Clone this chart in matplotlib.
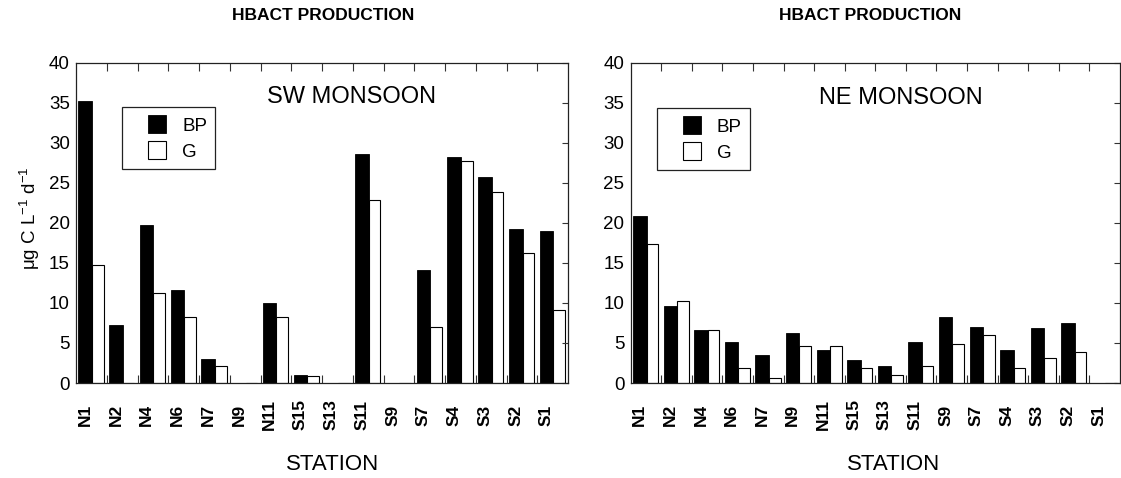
from __future__ import annotations

import matplotlib

matplotlib.use("Agg")
import matplotlib.pyplot as plt
import numpy as np
from matplotlib import font_manager
from matplotlib.legend_handler import HandlerPatch
from matplotlib.patches import Patch, Rectangle

STATIONS = [
    "N1", "N2", "N4", "N6", "N7", "N9", "N11", "S15",
    "S13", "S11", "S9", "S7", "S4", "S3", "S2", "S1",
]

# SW monsoon (left panel); 0 where no bar was drawn
SW_BP = [35.2, 7.3, 19.7, 11.6, 2.95, 0.0, 9.95, 1.0,
         0.0, 28.55, 0.0, 14.07, 28.25, 25.7, 19.2, 19.0]
SW_G = [14.8, 0.0, 11.3, 8.2, 2.1, 0.0, 8.3, 0.85,
        0.0, 22.9, 0.0, 7.0, 27.7, 23.8, 16.2, 9.07]

# NE monsoon (right panel)
NE_BP = [20.85, 9.6, 6.6, 5.08, 3.5, 6.3, 4.1, 2.87,
         2.1, 5.1, 8.2, 6.95, 4.1, 6.9, 7.45, 0.0]
NE_G = [17.35, 10.3, 6.6, 1.9, 0.6, 4.6, 4.6, 1.87,
        1.0, 2.1, 4.87, 6.0, 1.9, 3.08, 3.83, 0.0]

TITLE = "HBACT PRODUCTION"
Y_LABEL = "μg C L$^{-1}$ d$^{-1}$"
X_LABEL = "STATION"

plt.rcParams["font.family"] = ["Liberation Sans", "DejaVu Sans"]
plt.rcParams["mathtext.default"] = "regular"

# the title in the original is a condensed bold face
_names = {f.name for f in font_manager.fontManager.ttflist}
if "Liberation Sans Narrow" in _names:
    TITLE_FONT = dict(family=["Liberation Sans Narrow", "DejaVu Sans"], fontsize=14.5)
else:
    TITLE_FONT = dict(fontsize=12.5)


class SquareRight(HandlerPatch):
    # draw the legend swatch as a square at the right end of the handle box
    def create_artists(self, legend, orig_handle, xdescent, ydescent,
                       width, height, fontsize, trans):
        p = Rectangle((-xdescent + width - height, -ydescent), height, height)
        self.update_prop(p, orig_handle, legend)
        p.set_transform(trans)
        return [p]


def draw_panel(ax, bp, g, season, legend_xy, season_xy, station_x):
    x = np.arange(len(STATIONS))
    ax.bar(x + 0.08, bp, width=0.44, align="edge", color="black",
           edgecolor="black", linewidth=0.6)
    ax.bar(x + 0.52, g, width=0.38, align="edge", color="white",
           edgecolor="black", linewidth=0.8)

    ax.set_xlim(0, len(STATIONS))
    ax.set_ylim(0, 40)
    ax.set_yticks(range(0, 41, 5))

    ax.set_xticks(np.arange(1, len(STATIONS)))
    ax.set_xticklabels([])
    ax.set_xticks(x + 0.3, STATIONS, minor=True)
    ax.tick_params(axis="x", which="major", direction="in", top=True,
                   bottom=True, length=6, width=0.8, color="#333333")
    ax.tick_params(axis="x", which="minor", length=0, pad=23,
                   labelsize=12.5, rotation=90)
    for lbl in ax.get_xticklabels(minor=True):
        lbl.set_fontweight("bold")
        lbl.set_verticalalignment("center")

    ax.tick_params(axis="y", direction="in", left=False, right=True,
                   labelleft=True, length=4.5, width=0.8, pad=4.5,
                   labelsize=13.5, color="#333333")

    for sp in ax.spines.values():
        sp.set_linewidth(0.9)
        sp.set_color("#222222")

    ax.text(season_xy[0], season_xy[1], season, transform=ax.transAxes,
            ha="center", va="center", fontsize=17)
    ax.text(station_x, -0.253, X_LABEL, transform=ax.transAxes,
            ha="center", va="center", fontsize=16)

    handles = [Patch(facecolor="black", edgecolor="black", linewidth=0.6),
               Patch(facecolor="white", edgecolor="black", linewidth=0.8)]
    leg = ax.legend(handles, ["BP", "G"], loc="upper left",
                    bbox_to_anchor=legend_xy, borderaxespad=0,
                    fontsize=13.5, handlelength=1.9, handleheight=1.07,
                    handletextpad=0.85, labelspacing=0.37, borderpad=0.45,
                    fancybox=False, framealpha=1, edgecolor="#222222",
                    handler_map={Patch: SquareRight()})
    leg.get_frame().set_linewidth(0.9)


def main() -> None:
    fig = plt.figure(figsize=(11.21, 4.78), dpi=100)
    ax1 = fig.add_axes([0.0678, 0.1987, 0.4389, 0.6701])
    ax2 = fig.add_axes([0.5626, 0.1987, 0.4365, 0.6701])

    draw_panel(ax1, SW_BP, SW_G, "SW MONSOON", (0.0935, 0.862), (0.559, 0.894), 0.522)
    draw_panel(ax2, NE_BP, NE_G, "NE MONSOON", (0.0538, 0.859), (0.552, 0.89), 0.538)

    fig.text(0.288, 0.968, TITLE, ha="center", va="center",
             fontweight="bold", **TITLE_FONT)
    fig.text(0.776, 0.968, TITLE, ha="center", va="center",
             fontweight="bold", **TITLE_FONT)
    fig.text(0.027, 0.544, Y_LABEL, rotation=90, ha="center", va="center",
             fontsize=13.5)

    fig.savefig("out.png", dpi=100)
    plt.close(fig)


if __name__ == "__main__":
    main()
